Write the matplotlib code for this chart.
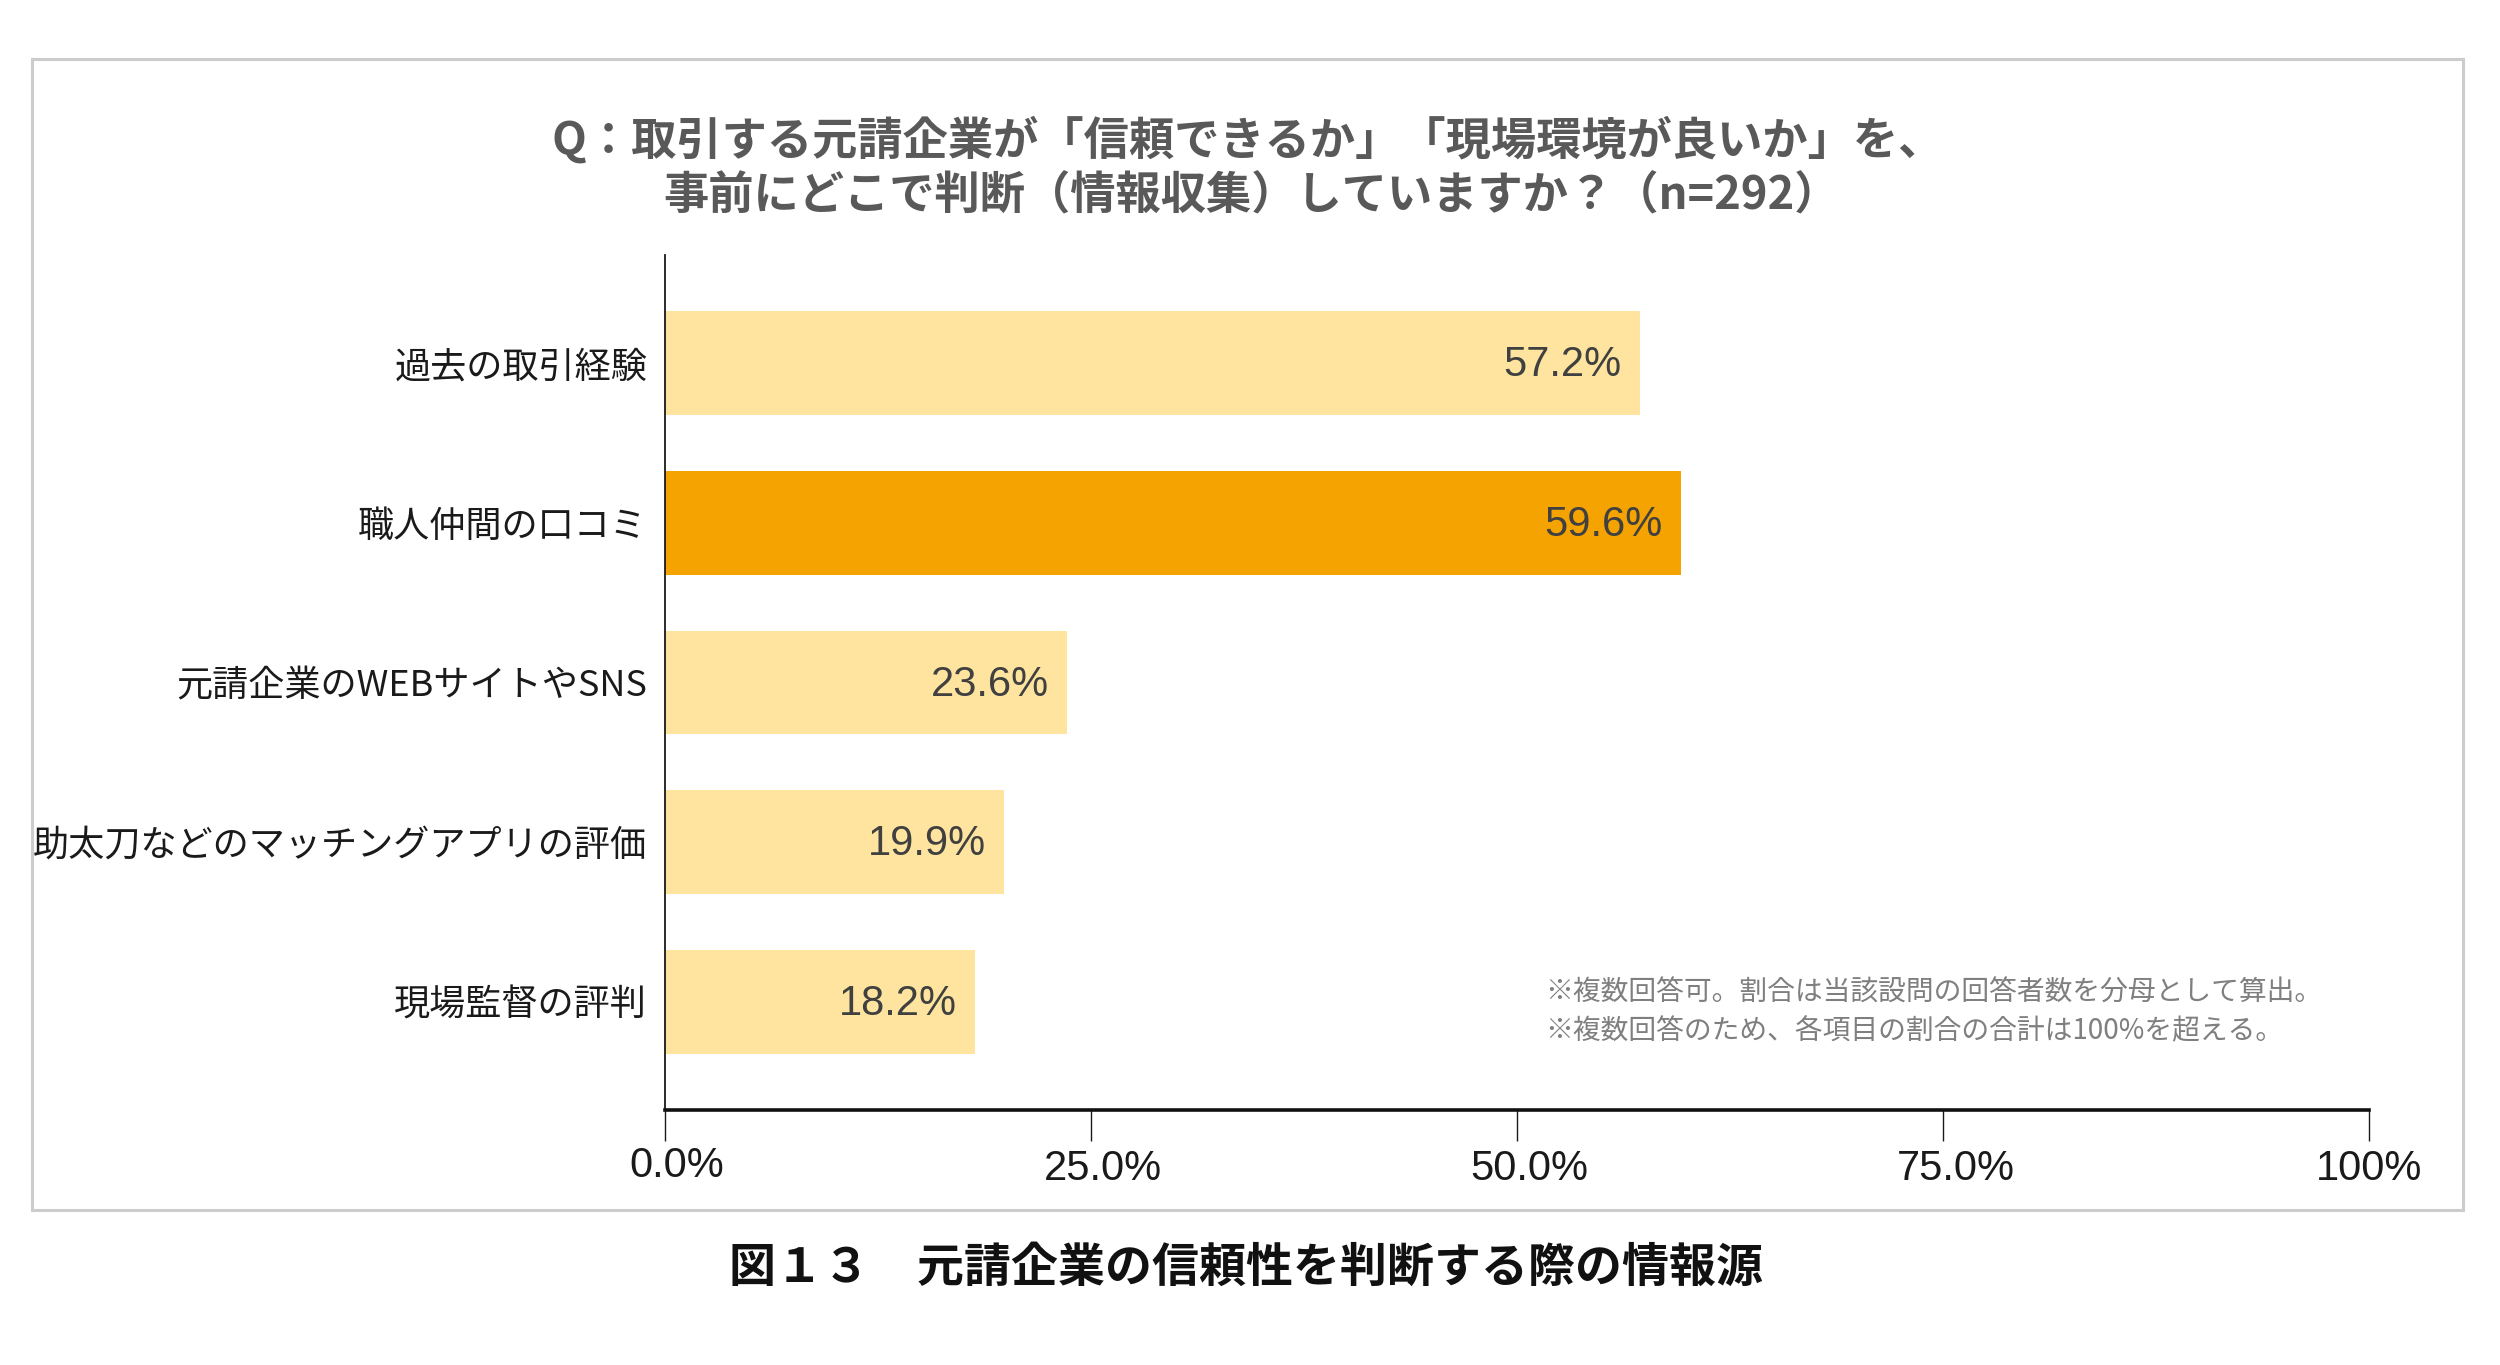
import matplotlib
matplotlib.use("Agg")
import matplotlib.pyplot as plt
from matplotlib.patches import Rectangle
import matplotlib.transforms as mtransforms

categories = ["過去の取引経験", "職人仲間の口コミ", "元請企業のWEBサイトやSNS",
              "助太刀などのマッチングアプリの評価", "現場監督の評判"]
values = [57.2, 59.6, 23.6, 19.9, 18.2]
highlight = [False, True, False, False, False]
xticks = [0, 25, 50, 75, 100]
xtick_labels = ["0.0%", "25.0%", "50.0%", "75.0%", "100%"]
title_lines = ["Q：取引する元請企業が「信頼できるか」「現場環境が良いか」を、",
               "事前にどこで判断（情報収集）していますか？（n=292）"]
caption = "図１３　元請企業の信頼性を判断する際の情報源"
notes = ["※複数回答可。割合は当該設問の回答者数を分母として算出。",
         "※複数回答のため、各項目の割合の合計は100%を超える。"]

CJK = ["Noto Sans CJK JP", "DejaVu Sans"]
LAT = ["Liberation Sans", "Noto Sans CJK JP", "DejaVu Sans"]
plt.rcParams['font.family'] = CJK

fig = plt.figure(figsize=(25, 13.65), dpi=100)
fig.patch.set_facecolor("white")

# outer frame
fig.patches.append(Rectangle((0.0128, 0.1132), 0.9725, 0.8436, transform=fig.transFigure,
                             fill=False, edgecolor="#CCCCCC", linewidth=2.2, zorder=0))

ax = fig.add_axes([0.2658, 0.1867, 0.6819, 0.6266])
ypos = list(range(len(categories)))
colors = ["#F5A300" if h else "#FEE49F" for h in highlight]
ax.barh(ypos, values, height=0.65, color=colors, edgecolor="none")

for y, v in zip(ypos, values):
    ax.annotate(f"{v:.1f}%", xy=(v, y), xytext=(-13, -1.5), textcoords="offset points",
                ha="right", va="center", fontsize=30, color="#404040", family=LAT)

ax.set_xlim(0, 100)
ax.set_ylim(len(categories) - 1 + 0.68, -0.68)
ax.set_yticks(ypos)
ax.set_yticklabels(categories, fontsize=26, color="#1a1a1a", family=CJK)
ax.tick_params(axis="y", length=0, pad=12.5)
ax.set_xticks(xticks)
ax.set_xticklabels(xtick_labels, fontsize=30, color="#1a1a1a", family=LAT)
ax.tick_params(axis="x", direction="out", length=22, width=1.0, color="#1a1a1a", pad=6)

# small offsets of the tick labels as in the reference
for lbl in ax.get_xticklabels():
    txt = lbl.get_text()
    dx = 9 / 72 if "." in txt else 0
    dy = 2.5 / 72 if txt.startswith("0.") else 0
    lbl.set_transform(lbl.get_transform() +
                      mtransforms.ScaledTranslation(dx, dy, fig.dpi_scale_trans))

for s in ["top", "right"]:
    ax.spines[s].set_visible(False)
ax.spines["left"].set_linewidth(1.3)
ax.spines["left"].set_color("#1a1a1a")
ax.spines["bottom"].set_linewidth(2.6)
ax.spines["bottom"].set_color("#111111")

fig.text(0.499, 0.897, title_lines[0], ha="center", va="center", fontsize=32.6,
         fontweight="bold", color="#595959", family=CJK)
fig.text(0.5005, 0.856, title_lines[1], ha="center", va="center", fontsize=32.6,
         fontweight="bold", color="#595959", family=CJK)

fig.text(0.618, 0.2725, notes[0], ha="left", va="center", fontsize=20.0, color="#7f7f7f", family=CJK)
fig.text(0.618, 0.2445, notes[1], ha="left", va="center", fontsize=20.0, color="#7f7f7f", family=CJK)

fig.text(0.4985, 0.071, caption, ha="center", va="center", fontsize=33.8,
         fontweight="bold", color="#111111", family=CJK)

fig.savefig("out.png", dpi=100, facecolor="white")
